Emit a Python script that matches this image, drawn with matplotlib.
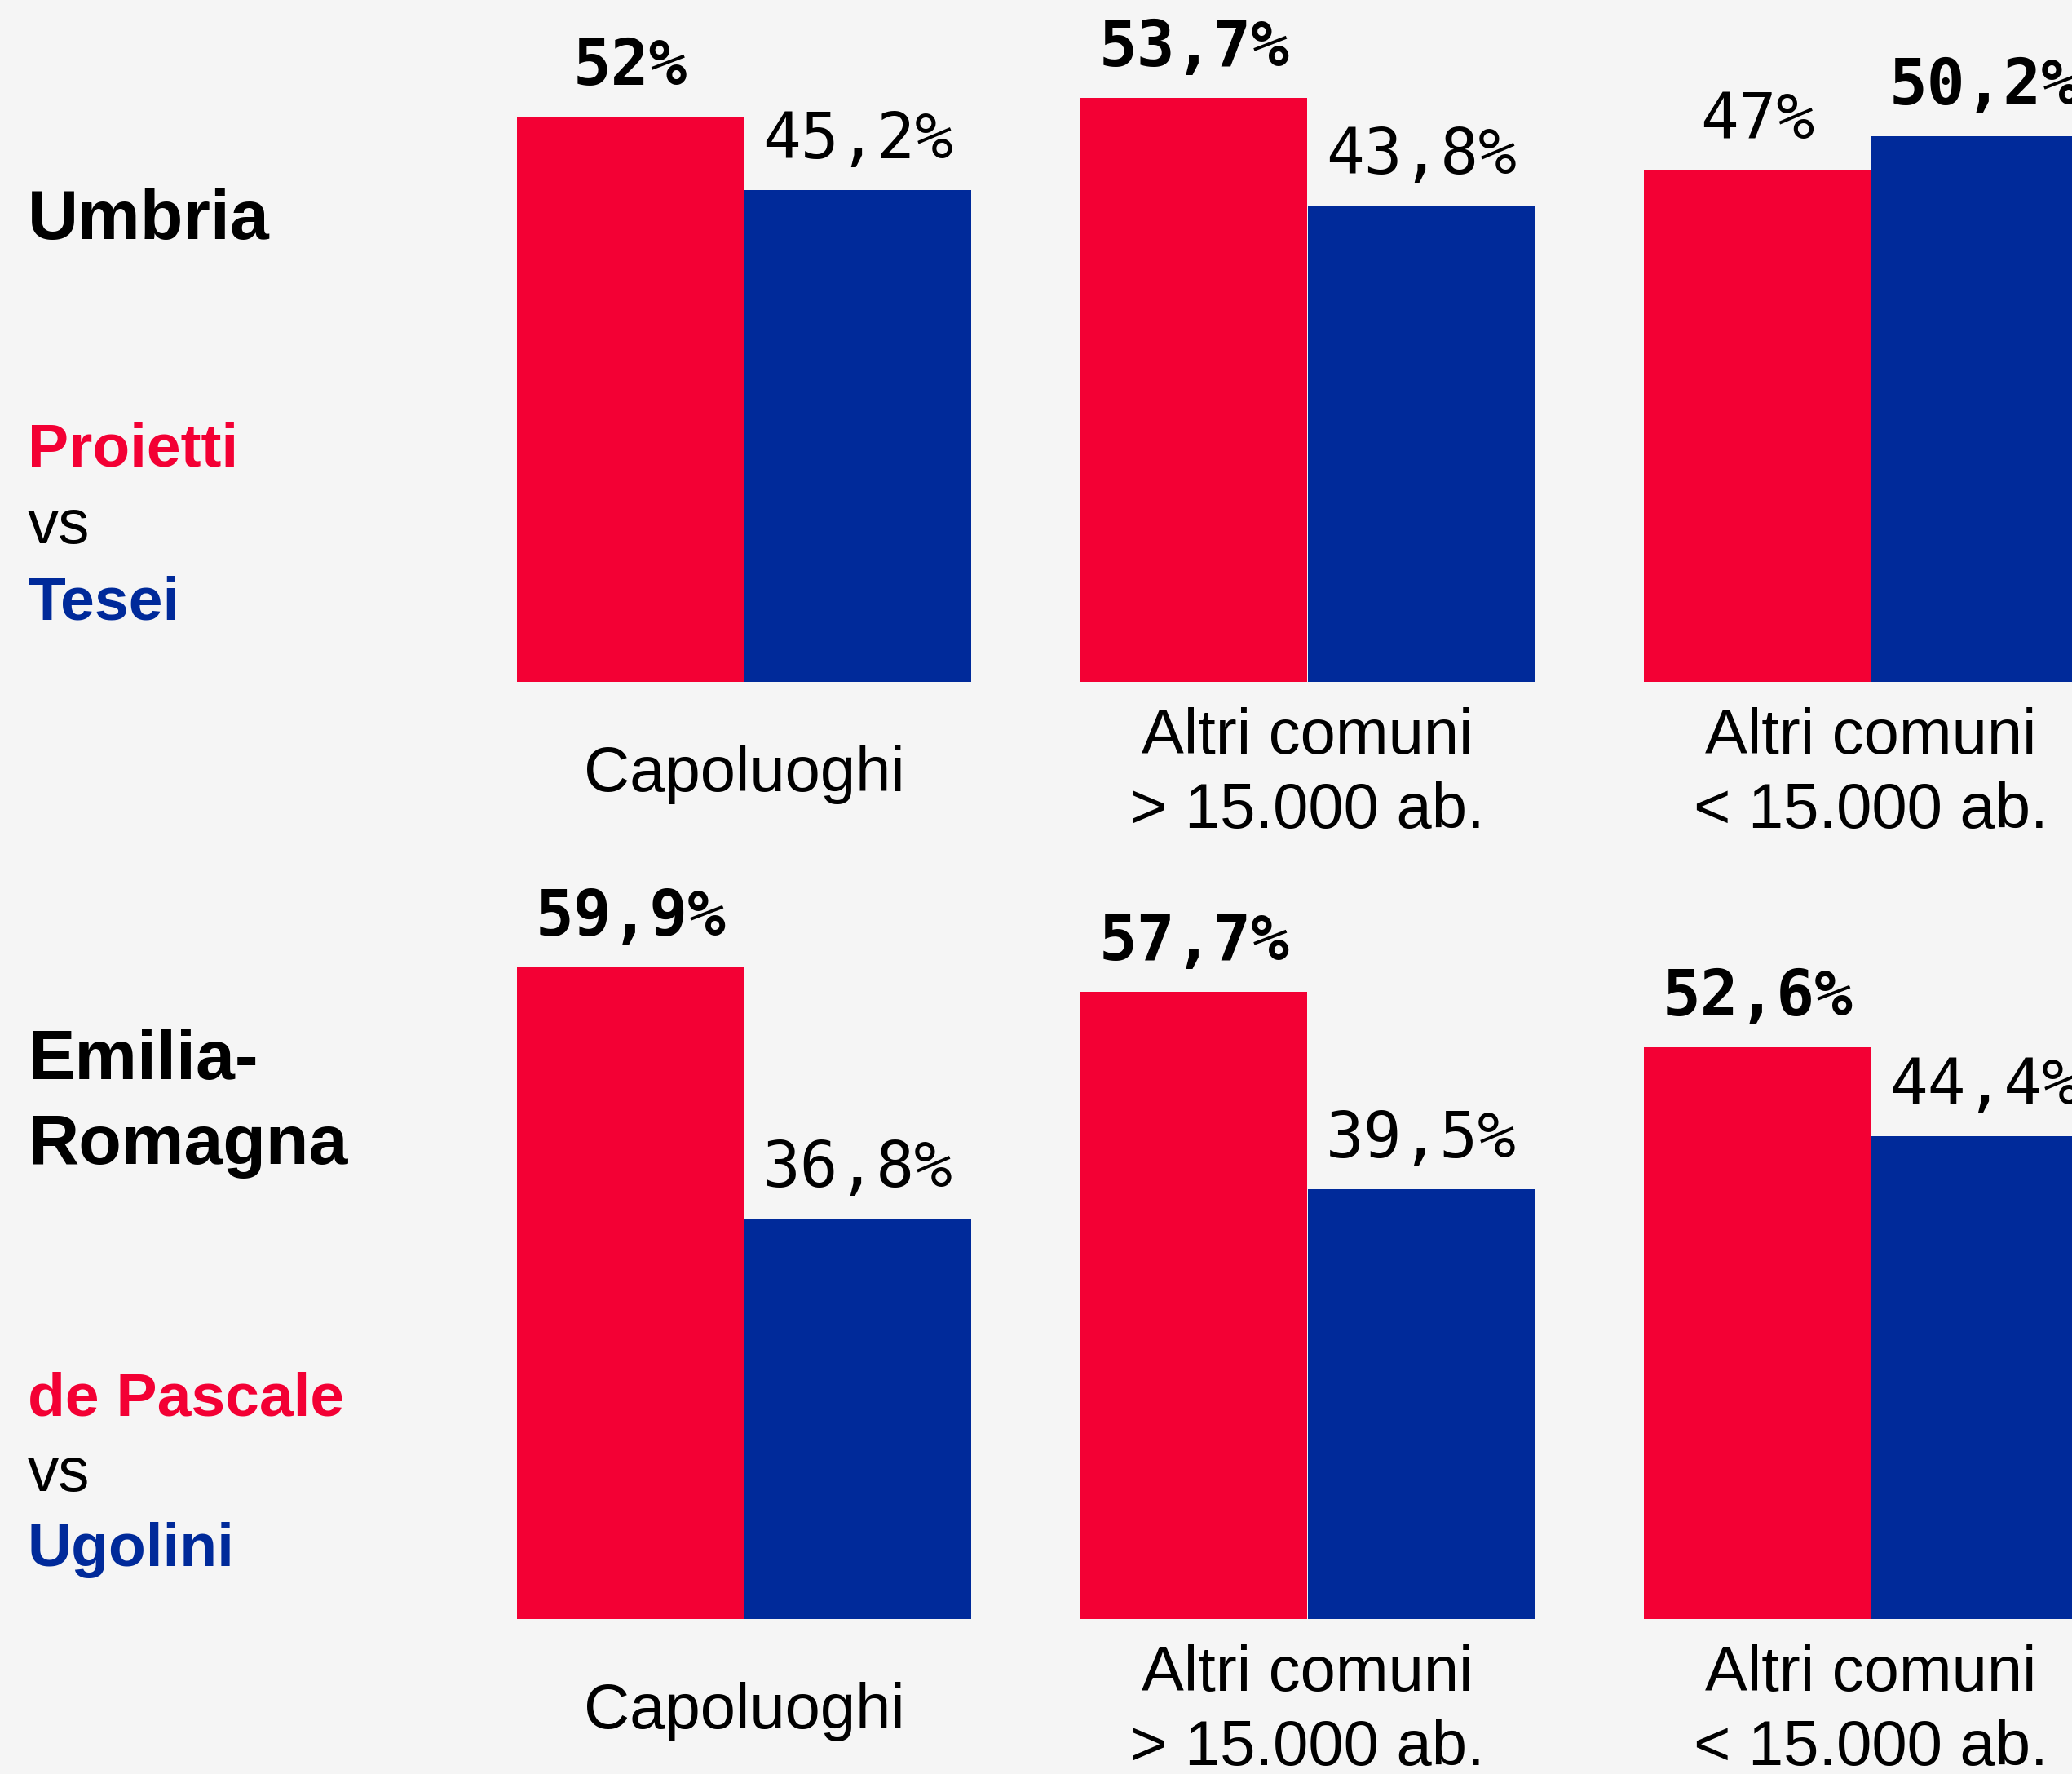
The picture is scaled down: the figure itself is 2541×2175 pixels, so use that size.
"""
Regional elections: Umbria and Emilia-Romagna, vote share by municipality size
"""
import matplotlib.pyplot as plt

# Data
categories = ["Capoluoghi", "Altri comuni\n> 15.000 ab.", "Altri comuni\n< 15.000 ab."]
regions = ["Umbria", "Emilia-\nRomagna"]
red_names = ["Proietti", "de Pascale"]
blue_names = ["Tesei", "Ugolini"]
umbria_red = [52.0, 53.7, 47.0]
umbria_blue = [45.2, 43.8, 50.2]
emilia_red = [59.9, 57.7, 52.6]
emilia_blue = [36.8, 39.5, 44.4]

RED = '#F30034'
BLUE = '#002A9A'
BG = '#F5F5F5'
SANS = 'Liberation Sans'
MONO = 'DejaVu Sans Mono'

W, H = 2541, 2175
fig = plt.figure(figsize=(W / 100, H / 100), dpi=100, facecolor=BG)

# bar geometry (pixels in the reference layout)
group_px = 691
bar_px = 278.5
w = bar_px / group_px
px_per_pct = 13.335


def fmt(v):
    return f"{v:g}".replace('.', ',') + '%'


def draw_row(baseline_px, red_vals, blue_vals):
    left_px = 634
    width_px = group_px * (2 + 2 * w)
    height_px = 836
    ax = fig.add_axes([left_px / W, 1 - baseline_px / H, width_px / W, height_px / H])
    ax.set_xlim(-w, 2 + w)
    ax.set_ylim(0, height_px / px_per_pct)
    ax.axis('off')
    x = range(len(categories))
    xr = [i - w / 2 for i in x]
    xb = [i + w / 2 for i in x]
    ax.bar(xr, red_vals, width=w, color=RED, linewidth=0)
    ax.bar(xb, blue_vals, width=w, color=BLUE, linewidth=0)

    # value labels, winner in bold
    for xi_r, xi_b, r, b in zip(xr, xb, red_vals, blue_vals):
        for xi, v, other in [(xi_r, r, b), (xi_b, b, r)]:
            ax.annotate(fmt(v), (xi, v), xytext=(0, 28), textcoords='offset points',
                        ha='center', va='baseline', fontsize=56, family=MONO,
                        fontweight='bold' if v > other else 'normal',
                        annotation_clip=False)

    # category labels under each group
    for i, cat in zip(x, categories):
        ax.annotate(cat, (i, 0), xytext=(0, -81.5), textcoords='offset points',
                    ha='center', va='center', fontsize=56, family=SANS,
                    linespacing=1.32, annotation_clip=False)


draw_row(836, umbria_red, umbria_blue)
draw_row(1985, emilia_red, emilia_blue)


def ftext(x, y, s, **kw):
    fig.text(x / W, 1 - y / H, s, ha='left', va='baseline', family=SANS, **kw)


# left column: region and candidates
ftext(34, 293, regions[0], fontsize=62, fontweight='bold', color='black')
ftext(34, 572, red_names[0], fontsize=54, fontweight='bold', color=RED)
ftext(34, 666, "vs", fontsize=55, color='black')
ftext(34, 760, blue_names[0], fontsize=54, fontweight='bold', color=BLUE)

# multiline text with va='baseline' aligns on the last line
ftext(34, 1427, regions[1], fontsize=62, fontweight='bold', color='black', linespacing=1.38)
ftext(34, 1735, red_names[1], fontsize=54, fontweight='bold', color=RED)
ftext(34, 1828, "vs", fontsize=55, color='black')
ftext(34, 1920, blue_names[1], fontsize=54, fontweight='bold', color=BLUE)

plt.savefig('out.png', dpi=100, facecolor=BG)
